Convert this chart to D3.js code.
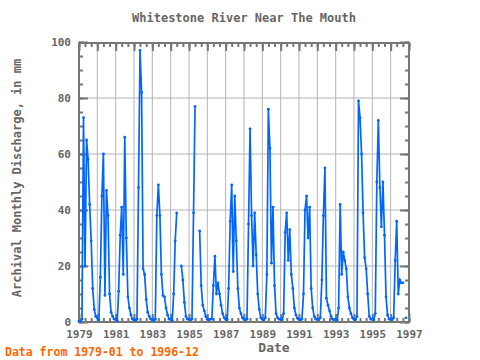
<!DOCTYPE html>
<html>
<head>
<meta charset="utf-8">
<script src="https://cdn.jsdelivr.net/npm/d3@7"></script>
<style>
  body { margin: 0; background: #fff; }
  svg text { font-family: "DejaVu Sans Mono", "Liberation Mono", monospace; font-weight: bold; }
</style>
</head>
<body>
<div id="chart"></div>
<script>
// monthly discharge (mm), Jan..Dec; null = missing month
const q1979 = [0.3, 0.3, 1, 73, 20, 65, 58, 42, 29, 12, 4.5, 2];
const q1980 = [1.5, 0.8, 16, 45, 60, 9.5, 47, 38, 10, 3.5, 2, 1];
const q1981 = [1, 0.5, 11, 31, 41, 17, 66, 30, 9, 5, 2.5, 1];
const q1982 = [0.8, 0.5, 1, 48, 97, 82, 19, 17, 8, 3.5, 2, 1];
const q1983 = [0.8, 0.5, 1, 38, 49, 38, 17, 9.5, 9, 5, 2.5, 1];
const q1984 = [1, 0.5, 10, 29, 39, null, null, 20, 15, 7, 2, 1];
const q1985 = [1, 0.8, 1, 39, 77, null, null, 32.5, 13, 6, 4, 2];
const q1986 = [1, 0.8, 1, 1, 13, 23.5, 10, 14, 10, 6, 3, 1.5];
const q1987 = [1, 0.8, 12, 36, 49, 18, 45, 29, 12, 5, 3, 1.5];
const q1988 = [1, 0.8, 1, 35, 69, 38, 20, 39, 24, 10, 4.5, 1.5];
const q1989 = [1, 0.8, 1.5, 17, 76, 62, 21, 41, 13, 3, 1.5, 1];
const q1990 = [1, 0.8, 3, 32, 39, 22, 33, 17, 12, 5, 2.5, 1.3];
const q1991 = [1, 0.8, 1, 10, 40, 45, 30, 41, 12, 5, 2, 1];
const q1992 = [1, 0.8, 1.5, 15, 38, 55, 8.5, 6, 4, 2, 1, 0.8];
const q1993 = [1, 0.7, 5, 42, 17, 25, 22, 19, 9, 5, 3, 1.5];
const q1994 = [1, 0.8, 2, 79, 73, 60, 39, 23, 19, 10, 2, 1];
const q1995 = [1, 0.8, 3, 50, 72, 48, 34, 50, 31, 9, 2.5, 1];
const q1996 = [1, 0.8, 1.5, 22, 36, 10, 15, 14, 14, null, 1.5, null];

const years = [1979, 1980, 1981, 1982, 1983, 1984, 1985, 1986, 1987,
               1988, 1989, 1990, 1991, 1992, 1993, 1994, 1995, 1996];
const yearValues = [q1979, q1980, q1981, q1982, q1983, q1984, q1985, q1986, q1987,
                    q1988, q1989, q1990, q1991, q1992, q1993, q1994, q1995, q1996];

const yTicks = [0, 20, 40, 60, 80, 100];
const xLabelYears = [1979, 1981, 1983, 1985, 1987, 1989, 1991, 1993, 1995, 1997];

const titleText = 'Whitestone River Near The Mouth';
const yLabelText = 'Archival Monthly Discharge, in mm';
const xLabelText = 'Date';
const noteText = 'Data from 1979-01 to 1996-12';

const W = 480, H = 360;
const plot = { left: 79, right: 409, top: 43, bottom: 322 };
const axisColor = '#777';
const gridColor = '#b4b4b4';
const lineColor = '#0066ff';

const points = [];
years.forEach((yr, i) => {
    yearValues[i].forEach((v, m) => {
        points.push({ date: new Date(yr, m, 1), value: v });
    });
});

const x = d3.scaleTime()
    .domain([new Date(1979, 0, 1), new Date(1997, 0, 1)])
    .range([plot.left, plot.right]);
const y = d3.scaleLinear()
    .domain([0, 100])
    .range([plot.bottom, plot.top - 1]);

const svg = d3.select('#chart')
    .append('svg')
    .attr('width', W)
    .attr('height', H);

// grid
const grid = svg.append('g');
grid.selectAll('.vgrid')
    .data(d3.timeYear.range(new Date(1980, 0, 1), new Date(1997, 0, 1)))
    .enter().append('line')
    .attr('x1', d => x(d)).attr('x2', d => x(d))
    .attr('y1', plot.top).attr('y2', plot.bottom)
    .attr('stroke', gridColor).attr('stroke-width', 1);
grid.selectAll('.hgrid')
    .data(yTicks.filter(t => t > 0 && t < 100))
    .enter().append('line')
    .attr('x1', plot.left).attr('x2', plot.right)
    .attr('y1', d => y(d)).attr('y2', d => y(d))
    .attr('stroke', gridColor).attr('stroke-width', 1);

// axes with inward ticks
function styleAxis(g) {
    g.select('.domain').remove();
    g.selectAll('line').attr('stroke', axisColor).attr('stroke-width', 2);
    g.selectAll('text').attr('fill', '#666').style('font-size', '11px');
}

const minorMonths = d3.timeMonth.every(4).range(new Date(1979, 0, 1), new Date(1997, 0, 2));
svg.append('g').attr('transform', `translate(0,${plot.top})`)
    .call(d3.axisTop(x).tickValues(minorMonths).tickSize(-4).tickFormat(''))
    .call(styleAxis);
svg.append('g').attr('transform', `translate(0,${plot.top})`)
    .call(d3.axisTop(x).ticks(d3.timeYear.every(1)).tickSize(-8).tickFormat(''))
    .call(styleAxis);
svg.append('g').attr('transform', `translate(0,${plot.bottom})`)
    .call(d3.axisBottom(x).tickValues(minorMonths).tickSize(-4).tickFormat(''))
    .call(styleAxis);
svg.append('g').attr('transform', `translate(0,${plot.bottom})`)
    .call(d3.axisBottom(x).ticks(d3.timeYear.every(1)).tickSize(-8).tickFormat(''))
    .call(styleAxis);
svg.append('g').attr('transform', `translate(0,${plot.bottom})`)
    .call(d3.axisBottom(x)
        .tickValues(xLabelYears.map(yr => new Date(yr, 0, 1)))
        .tickSize(0).tickPadding(8)
        .tickFormat(d3.timeFormat('%Y')))
    .call(styleAxis);

const minorY = d3.range(0, 101, 5);
svg.append('g').attr('transform', `translate(${plot.left},0)`)
    .call(d3.axisLeft(y).tickValues(minorY).tickSize(-4).tickFormat(''))
    .call(styleAxis);
svg.append('g').attr('transform', `translate(${plot.left},0)`)
    .call(d3.axisLeft(y).tickValues(yTicks).tickSize(-9).tickPadding(8))
    .call(styleAxis);
svg.append('g').attr('transform', `translate(${plot.right},0)`)
    .call(d3.axisRight(y).tickValues(minorY).tickSize(-4).tickFormat(''))
    .call(styleAxis);
svg.append('g').attr('transform', `translate(${plot.right},0)`)
    .call(d3.axisRight(y).tickValues(yTicks).tickSize(-9).tickFormat(''))
    .call(styleAxis);

// frame
svg.append('rect')
    .attr('x', plot.left).attr('y', plot.top)
    .attr('width', plot.right - plot.left)
    .attr('height', plot.bottom - plot.top)
    .attr('fill', 'none')
    .attr('stroke', axisColor)
    .attr('stroke-width', 2);

// data
const line = d3.line()
    .defined(d => d.value !== null)
    .x(d => x(d.date))
    .y(d => y(d.value));

svg.append('path')
    .datum(points)
    .attr('d', line)
    .attr('fill', 'none')
    .attr('stroke', lineColor)
    .attr('stroke-width', 1.7);

svg.append('g').selectAll('circle')
    .data(points.filter(d => d.value !== null))
    .enter().append('circle')
    .attr('cx', d => x(d.date))
    .attr('cy', d => y(d.value))
    .attr('r', 1.4)
    .attr('fill', lineColor);

// texts
svg.append('text')
    .attr('x', 244).attr('y', 22)
    .attr('text-anchor', 'middle')
    .attr('fill', '#666')
    .style('font-size', '12px')
    .text(titleText);

svg.append('text')
    .attr('transform', 'translate(21,178) rotate(-90)')
    .attr('text-anchor', 'middle')
    .attr('fill', '#666')
    .style('font-size', '12px')
    .text(yLabelText);

svg.append('text')
    .attr('x', 274).attr('y', 352)
    .attr('text-anchor', 'middle')
    .attr('fill', '#666')
    .style('font-size', '13px')
    .text(xLabelText);

svg.append('text')
    .attr('x', 5).attr('y', 356)
    .attr('fill', '#ff6600')
    .style('font-size', '11.5px')
    .text(noteText);
</script>
</body>
</html>
